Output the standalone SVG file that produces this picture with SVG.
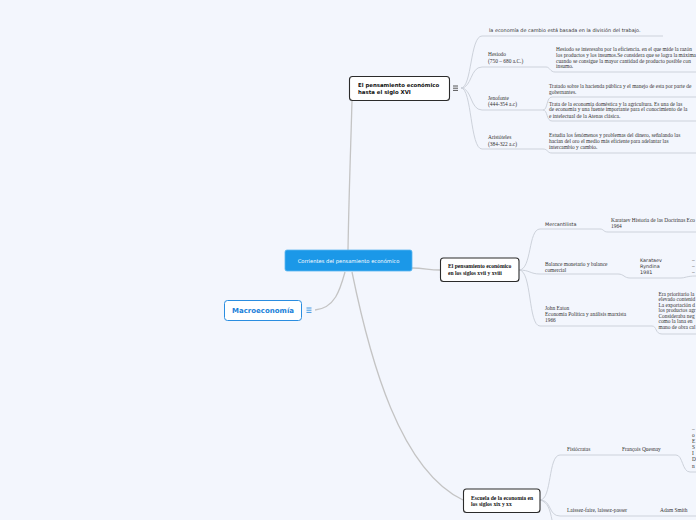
<svg xmlns="http://www.w3.org/2000/svg" width="696" height="520" viewBox="0 0 696 520">
<style>
.bg{fill:#f3f6fd}
.main{fill:none;stroke:#c4c4c4;stroke-width:1.3}
.sub{fill:none;stroke:#cdd2db;stroke-width:1}
.sans{font-family:"DejaVu Sans",Verdana,sans-serif;font-size:4.9px;fill:#333}
.serif{font-family:"Liberation Serif","Times New Roman",serif;font-size:5.4px;fill:#333}
.nodebox{fill:#fff;stroke:#2b2b2b;stroke-width:1.1}
.nlabel{font-family:"DejaVu Sans",Verdana,sans-serif;font-size:5.4px;font-weight:bold;fill:#111}
.nlabels{font-family:"Liberation Serif","Times New Roman",serif;font-size:5.6px;font-weight:bold;fill:#111}
</style>
<rect class="bg" x="0" y="0" width="696" height="520"/>

<g id="connectors">
  <path class="main" d="M348,250 C 349,190 351,140 352,100.5"/>
  <path class="main" d="M412,268 C 425,268 428,270 440,270"/>
  <path class="main" d="M352,272 C 370,360 400,470 463,500"/>
  <path class="main" d="M315,310 C 335,308 340,290 345,272"/>
  <path class="sub" d="M461,88 C 472,88 470,36 482,36 H663"/>
  <path class="sub" d="M461,88 C 472,88 470,67 482,67 H546 C 550,67 550,72 555,72 H696"/>
  <path class="sub" d="M461,88 C 472,88 470,110 482,110 H543 C 548,110 546,97 552,97 H696"/>
  <path class="sub" d="M543,110 C 548,110 546,121 552,121 H696"/>
  <path class="sub" d="M461,88 C 472,88 470,149 482,149 H543 C 548,149 547,153 552,153 H696"/>
  <path class="sub" d="M519,270 C 532,270 528,229 540,229 H600 C 604,229 603,232 608,232 H696"/>
  <path class="sub" d="M519,270 C 530,270 530,274 540,274 H618 C 624,274 624,278 630,278 H680 C 686,278 686,276 696,276"/>
  <path class="sub" d="M519,270 C 532,270 528,326 540,326 H652 C 657,326 655,334 662,334 H696"/>
  <path class="sub" d="M540,500 C 552,500 548,455 560,455 H676 C 683,455 682,472 690,472 H696"/>
  <path class="sub" d="M540,500 C 552,500 548,516 560,516 H696"/>
  <path class="sub" d="M540,500 C 548,502 550,510 552,520"/>
</g>

<g id="center">
  <rect x="285" y="250" width="127" height="21" rx="2" fill="#1b98e8" stroke="#5ab6f0" stroke-width="0.8"/>
  <text x="348.5" y="262.5" text-anchor="middle" font-family="DejaVu Sans,Verdana,sans-serif" font-size="5.2px" fill="#fff">Corrientes del pensamiento económico</text>
</g>

<g id="macro">
  <rect x="224.5" y="300.5" width="77" height="20" rx="3" fill="#fff" stroke="#2a8de0" stroke-width="1"/>
  <text x="263" y="313" text-anchor="middle" font-family="DejaVu Sans,Verdana,sans-serif" font-size="7px" font-weight="bold" fill="#1a7fd9">Macroeconomía</text>
  <g stroke="#2a8de0" stroke-width="0.9">
    <line x1="306.5" y1="308" x2="311.5" y2="308"/>
    <line x1="306.5" y1="310.2" x2="311.5" y2="310.2"/>
    <line x1="306.5" y1="312.4" x2="311.5" y2="312.4"/>
  </g>
</g>

<g id="node1">
  <rect class="nodebox" x="349.5" y="76.5" width="100" height="24" rx="3"/>
  <text class="nlabel" x="358" y="87">El  pensamiento económico</text>
  <text class="nlabel" x="358" y="94">hasta el siglo XVI</text>
  <g stroke="#444" stroke-width="0.9">
    <line x1="453" y1="86" x2="458" y2="86"/>
    <line x1="453" y1="88.2" x2="458" y2="88.2"/>
    <line x1="453" y1="90.4" x2="458" y2="90.4"/>
  </g>
</g>

<g id="n1-division"><text class="sans" x="489" y="32">la economía de cambio está basada en la división del trabajo.</text></g>
<g id="n1-hesiodo">
  <text class="serif" x="488" y="56">Hesiodo</text>
  <text class="serif" x="488" y="63">(750 – 680 a.C.)</text>
</g>
<g id="n1-hesiodo-text">
  <text class="serif" x="556" y="51">Hesiodo se interesaba por la eficiencia. en el que mide la razón</text>
  <text class="serif" x="556" y="57">los productos y los insumos.Se considera que se logra la máxima</text>
  <text class="serif" x="556" y="62.5">cuando se consigue la mayor cantidad de producto posible con</text>
  <text class="serif" x="556" y="68">insumo.</text>
</g>
<g id="n1-jenofonte">
  <text class="serif" x="488" y="100">Jenofonte</text>
  <text class="serif" x="488" y="106">(444-354 a.c)</text>
</g>
<g id="n1-jen-text1">
  <text class="serif" x="549" y="88">Tratado sobre la hacienda pública y el manejo de esta por parte de</text>
  <text class="serif" x="549" y="93.5">gobernantes.</text>
</g>
<g id="n1-jen-text2">
  <text class="serif" x="549" y="105.5">Trata de la economía doméstica y la agricultura. Es una de las</text>
  <text class="serif" x="549" y="111">de economía y una fuente importante para el conocimiento de la</text>
  <text class="serif" x="549" y="117.5">e intelectual de la Atenas clásica.</text>
</g>
<g id="n1-aristoteles">
  <text class="serif" x="488" y="139">Aristóteles</text>
  <text class="serif" x="488" y="145.5">(384-322 a.c)</text>
</g>
<g id="n1-ari-text">
  <text class="serif" x="549" y="137">Estudia los fenómenos y problemas del dinero, señalando las</text>
  <text class="serif" x="549" y="142.5">hacían del oro el medio más eficiente para adelantar las</text>
  <text class="serif" x="549" y="148.5">intercambio y cambio.</text>
</g>

<g id="node2">
  <rect class="nodebox" x="440.5" y="258" width="78.5" height="23.5" rx="3"/>
  <text class="nlabels" x="448" y="268">El pensamiento económico</text>
  <text class="nlabels" x="448" y="274.5">en los siglos xvii y xviii</text>
</g>
<g id="n2-mercantilista"><text class="sans" x="545" y="226">Mercantilista</text></g>
<g id="n2-karataev1964">
  <text class="serif" x="611" y="221.5">Karataev Historia de las Doctrinas Eco</text>
  <text class="serif" x="611" y="228">1964</text>
</g>
<g id="n2-balance">
  <text class="serif" x="545" y="265.5">Balance monetario y balance</text>
  <text class="serif" x="545" y="271.5">comercial</text>
</g>
<g id="n2-karataev1981">
  <text class="sans" x="640" y="262">Karataev</text>
  <text class="sans" x="640" y="268">Ryndina</text>
  <text class="sans" x="640" y="274">1981</text>
</g>
<g id="n2-karataev1981-child">
  <text class="serif" x="692" y="262">–</text>
  <text class="serif" x="692" y="268">–</text>
  <text class="serif" x="692" y="274">–</text>
</g>
<g id="n2-eaton">
  <text class="serif" x="545" y="309.5">John Eaton</text>
  <text class="serif" x="545" y="315.5">Economía Política y análisis marxista</text>
  <text class="serif" x="545" y="321.5">1966</text>
</g>
<g id="n2-eaton-text">
  <text class="serif" x="658.5" y="295.5">Era prioritario la</text>
  <text class="serif" x="658.5" y="301">elevado contenid</text>
  <text class="serif" x="658.5" y="306.5">La exportación d</text>
  <text class="serif" x="658.5" y="312">los productos agr</text>
  <text class="serif" x="658.5" y="317.5">Consideraba neg</text>
  <text class="serif" x="658.5" y="323">como la lana en</text>
  <text class="serif" x="658.5" y="328.5">mano de obra cal</text>
</g>

<g id="node3">
  <rect class="nodebox" x="463.5" y="489" width="76.5" height="23.5" rx="3"/>
  <text class="nlabels" x="471" y="499.5">Escuela de la economía en</text>
  <text class="nlabels" x="471" y="506">los siglos xix y xx</text>
</g>
<g id="n3-fisiocratas"><text class="serif" x="567" y="451">Fisiócratas</text></g>
<g id="n3-quesnay"><text class="serif" x="622" y="451">François Quesnay</text></g>
<g id="n3-quesnay-child">
  <text class="serif" x="692" y="431">–</text>
  <text class="serif" x="692" y="437">o</text>
  <text class="serif" x="692" y="443">E</text>
  <text class="serif" x="692" y="449">S</text>
  <text class="serif" x="692" y="455"> I</text>
  <text class="serif" x="692" y="461">D</text>
  <text class="serif" x="692" y="468">n</text>
</g>
<g id="n3-laissez"><text class="serif" x="567" y="512">Laissez-faire, laissez-passer</text></g>
<g id="n3-smith"><text class="serif" x="660" y="512">Adam Smith</text></g>
</svg>
